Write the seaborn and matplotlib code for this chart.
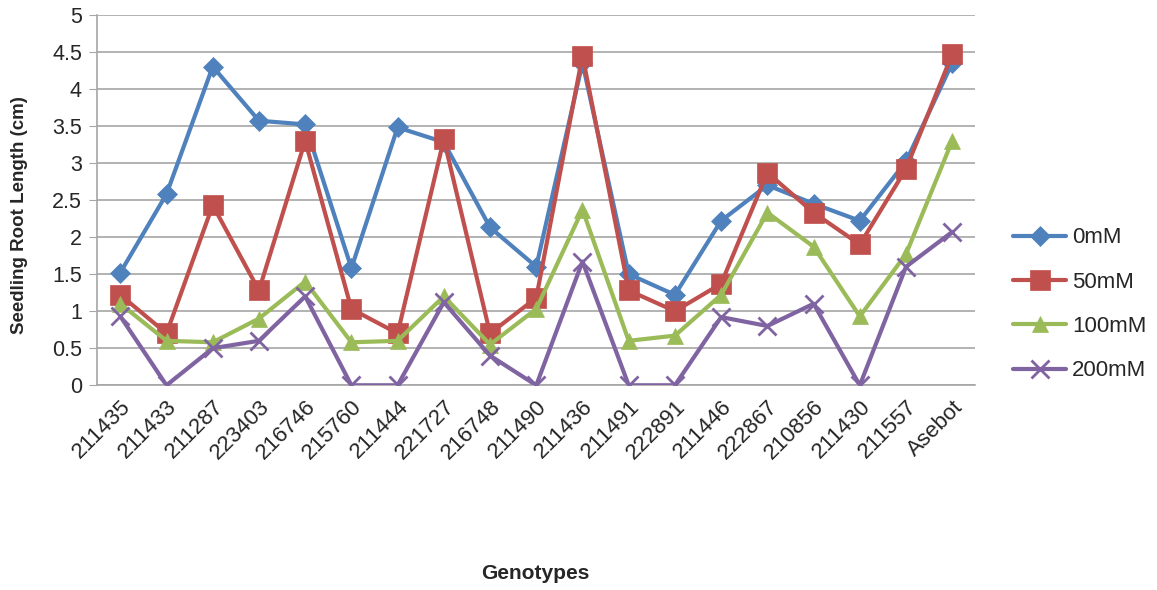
import numpy as np
import pandas as pd
import matplotlib
matplotlib.use("Agg")
import matplotlib.pyplot as plt
import seaborn as sns

# Data
genotypes = ["211435", "211433", "211287", "223403", "216746", "215760", "211444",
             "221727", "216748", "211490", "211436", "211491", "222891", "211446",
             "222867", "210856", "211430", "211557", "Asebot"]
mm0 = [1.52, 2.58, 4.30, 3.57, 3.52, 1.58, 3.48, 3.28, 2.13, 1.60, 4.35, 1.50, 1.22,
       2.22, 2.70, 2.45, 2.22, 3.02, 4.35]
mm50 = [1.22, 0.70, 2.43, 1.28, 3.30, 1.03, 0.70, 3.32, 0.70, 1.18, 4.45, 1.28, 1.00,
        1.37, 2.87, 2.33, 1.90, 2.92, 4.47]
mm100 = [1.10, 0.60, 0.58, 0.90, 1.40, 0.58, 0.60, 1.20, 0.55, 1.03, 2.37, 0.60, 0.67,
         1.22, 2.33, 1.87, 0.93, 1.77, 3.30]
mm200 = [0.93, 0.00, 0.50, 0.60, 1.20, 0.00, 0.00, 1.12, 0.40, 0.00, 1.67, 0.00, 0.00,
         0.92, 0.80, 1.10, 0.00, 1.60, 2.07]
treatments = ["0mM", "50mM", "100mM", "200mM"]

df = pd.DataFrame({"Genotype": genotypes * 4,
                   "Length": mm0 + mm50 + mm100 + mm200,
                   "Treatment": np.repeat(treatments, len(genotypes))})

sns.set_style("white")
plt.rcParams["font.family"] = ["Liberation Sans", "DejaVu Sans"]

colors = ["#4F81BD", "#C0504D", "#9BBB59", "#8064A2"]
markers = ["D", "s", "^", "x"]
msizes = [10, 14, 12, 13]

fig = plt.figure(figsize=(11.57, 5.90), dpi=100)
ax = fig.add_axes([0.084, 0.347, 0.759, 0.628])

for t, c, m, s in zip(treatments, colors, markers, msizes):
    sub = df[df["Treatment"] == t]
    sns.lineplot(data=sub, x="Genotype", y="Length", ax=ax, color=c, marker=m,
                 markersize=s, linewidth=3, label=t, sort=False,
                 markeredgewidth=2 if m == "x" else 0.5,
                 markeredgecolor=c, zorder=3)

ax.set_ylim(0, 5)
ax.set_xlim(-0.5, len(genotypes) - 0.5)
ax.set_yticks(np.arange(0, 5.01, 0.5))
ax.set_yticklabels(["0", "0.5", "1", "1.5", "2", "2.5", "3", "3.5", "4", "4.5", "5"])
ax.yaxis.grid(True, color="#A6A6A6", linewidth=1.2)
ax.xaxis.grid(False)
ax.set_axisbelow(True)
for sp in ["top", "right"]:
    ax.spines[sp].set_visible(False)
for sp in ["left", "bottom"]:
    ax.spines[sp].set_color("#A6A6A6")
    ax.spines[sp].set_linewidth(1.2)
ax.tick_params(axis="y", length=6, color="#A6A6A6", labelsize=15.5, pad=5, left=True)
ax.tick_params(axis="x", length=0, labelsize=16, pad=8)
plt.setp(ax.get_xticklabels(), rotation=45, ha="right", rotation_mode="anchor")

ax.set_xlabel("")
ax.set_ylabel("Seedling Root Length (cm)", fontsize=13.5, fontweight="bold")
ax.yaxis.set_label_coords(-0.079, 0.46)
fig.text(0.463, 0.018, "Genotypes", fontsize=15, fontweight="bold", ha="center")

ax.get_legend().remove()
h, l = ax.get_legend_handles_labels()
fig.legend(h, l, loc="center left", bbox_to_anchor=(0.8755, 0.484), frameon=False,
           fontsize=16, handlelength=2.4, labelspacing=1.05, handletextpad=0.25,
           borderpad=0, borderaxespad=0)

plt.savefig("out.png", dpi=100)
